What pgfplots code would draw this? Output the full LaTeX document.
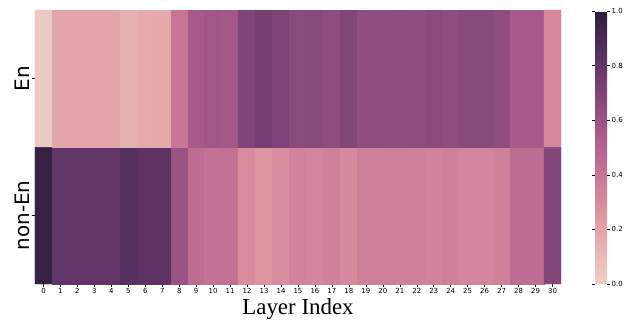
\documentclass[border=0pt]{standalone}
\usepackage{fontspec}
\setmainfont{DejaVu Sans}
\newfontfamily\tnr{Liberation Serif}
\usepackage{pgfplots}
\usepackage{pgfplotstable}
\pgfplotsset{compat=1.18}
\pgfplotstableread{
x y c
0 0 0.97
1 0 0.81
2 0 0.81
3 0 0.81
4 0 0.81
5 0 0.85
6 0 0.83
7 0 0.82
8 0 0.60
9 0 0.45
10 0 0.42
11 0 0.43
12 0 0.30
13 0 0.26
14 0 0.29
15 0 0.34
16 0 0.33
17 0 0.35
18 0 0.31
19 0 0.36
20 0 0.36
21 0 0.35
22 0 0.36
23 0 0.34
24 0 0.35
25 0 0.33
26 0 0.33
27 0 0.35
28 0 0.45
29 0 0.45
30 0 0.68
0 1 0.03
1 1 0.19
2 1 0.19
3 1 0.19
4 1 0.19
5 1 0.15
6 1 0.17
7 1 0.18
8 1 0.40
9 1 0.55
10 1 0.58
11 1 0.57
12 1 0.70
13 1 0.74
14 1 0.71
15 1 0.66
16 1 0.67
17 1 0.65
18 1 0.69
19 1 0.64
20 1 0.64
21 1 0.65
22 1 0.64
23 1 0.66
24 1 0.65
25 1 0.67
26 1 0.67
27 1 0.65
28 1 0.55
29 1 0.55
30 1 0.32
}\heat
\begin{document}
\begin{tikzpicture}
\begin{axis}[
  scale only axis,
  width=526bp, height=274bp,
  xmin=-0.5, xmax=30.5, ymin=-0.5, ymax=1.5,
  axis line style={draw=none},
  xtick={0,...,30},
  ytick={0,1},
  yticklabels={non-En,En},
  tick style={black, line width=0.5pt},
  major tick length=3bp,
  tick align=outside,
  xtick pos=bottom, ytick pos=left,
  xticklabel style={font=\fontsize{7}{8}\selectfont, inner sep=1.5bp, /pgf/number format/assume math mode=true},
  yticklabel style={rotate=90, anchor=south, font=\fontsize{20}{24}\selectfont, inner sep=2bp},
  xlabel={Layer Index},
  xlabel style={font=\fontsize{23}{27}\selectfont\tnr, inner sep=0pt, yshift=-3bp},
  colormap={ch}{rgb255(0)=(238,208,201) rgb255(1)=(233,186,184) rgb255(2)=(228,163,168) rgb255(3)=(216,140,158) rgb255(4)=(200,118,150) rgb255(5)=(180,99,142) rgb255(6)=(155,83,133) rgb255(7)=(128,68,120) rgb255(8)=(100,55,105) rgb255(9)=(72,42,85) rgb255(10)=(45,30,62)},
  point meta min=0, point meta max=1,
  colorbar,
  colorbar style={
    scale only axis,
    width=12bp, height=273bp,
    at={(parent axis.north east)}, anchor=north west, xshift=25.5bp, yshift=-1bp,
    axis line style={draw=none},
    ytick={0,0.2,...,1.0},
    yticklabel style={font=\fontsize{7}{8}\selectfont, /pgf/number format/fixed, /pgf/number format/precision=1, /pgf/number format/fixed zerofill, /pgf/number format/assume math mode=true, inner sep=1.5bp},
    tick style={black, line width=0.5pt},
    major tick length=3bp, tick align=outside,
  },
]
\addplot[matrix plot*, mesh/cols=31, point meta=explicit, shader=flat corner] table[x=x, y=y, meta=c]{\heat};
\coordinate (SW) at (rel axis cs:0,0);
\coordinate (NE) at (rel axis cs:1,1);
\end{axis}
\pgfresetboundingbox
\path ([shift={(-35bp,-36bp)}]SW) rectangle ([shift={(68bp,10bp)}]NE);
\end{tikzpicture}
\end{document}
